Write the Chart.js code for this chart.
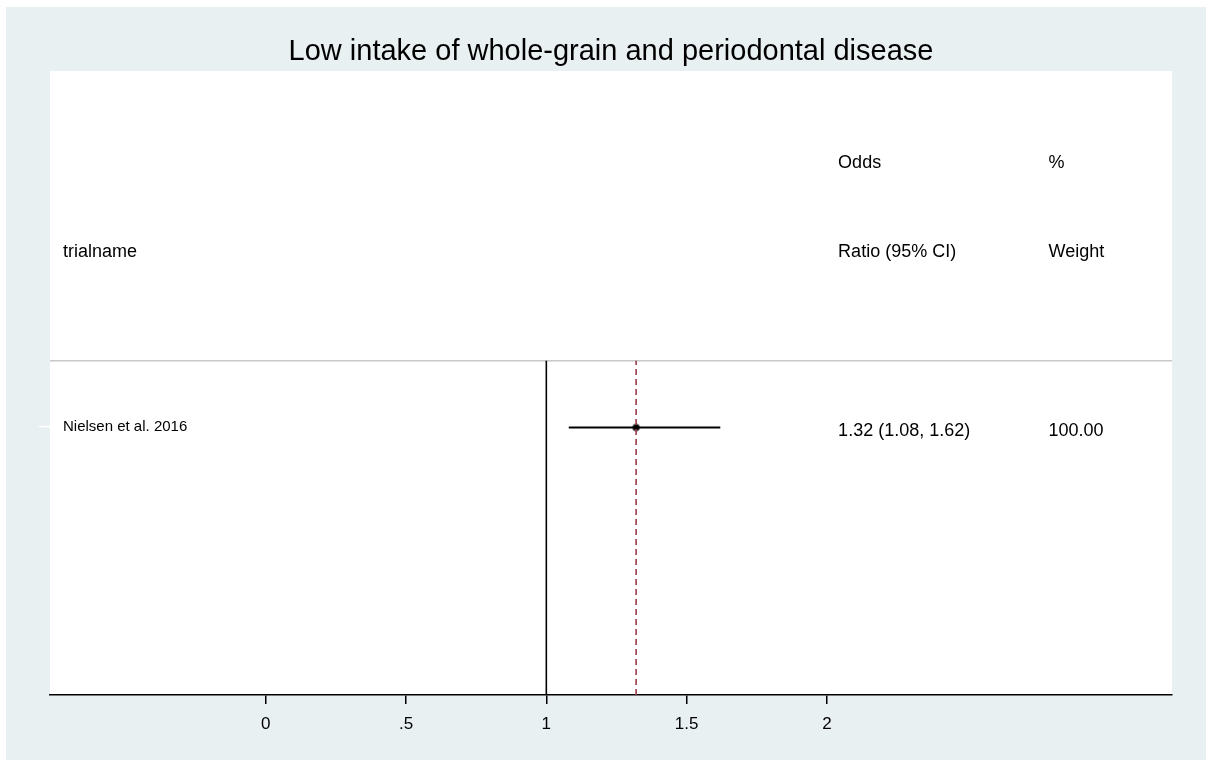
<!DOCTYPE html>
<html>
<head>
<meta charset="utf-8">
<title>Low intake of whole-grain and periodontal disease</title>
<script src="https://cdn.jsdelivr.net/npm/chart.js@4"></script>
<style>
  html, body { margin: 0; padding: 0; background: #fff; }
  #forest { display: block; }
</style>
</head>
<body>
<canvas id="forest" width="1206" height="760"></canvas>
<script>
// study rows
const studies = ["Nielsen et al. 2016"];
const oddsRatio = [1.32];
const ciLow = [1.08];
const ciHigh = [1.62];
const weights = [100.00];
const rowY = [3];

// pooled estimate and reference line
const pooledOR = 1.32;
const nullValue = 1;

// axis
const xTicks = [0, 0.5, 1, 1.5, 2];
const tickLabels = ["0", ".5", "1", "1.5", "2"];

// column headers: [text, column, row]
const headers = [
  ["Odds", "or", 6],
  ["%", "wt", 6],
  ["trialname", "name", 5],
  ["Ratio (95% CI)", "or", 5],
  ["Weight", "wt", 5]
];
const separatorY = 3.75;

const FONT = "'Liberation Sans', Arial, Helvetica, sans-serif";
const colX = { or: 2.04, wt: 2.79 };

function fmtOR(i) {
  return `${oddsRatio[i].toFixed(2)} (${ciLow[i].toFixed(2)}, ${ciHigh[i].toFixed(2)})`;
}

const datasets = [];

// confidence intervals
studies.forEach((s, i) => {
  datasets.push({
    type: "line",
    data: [{ x: ciLow[i], y: rowY[i] }, { x: ciHigh[i], y: rowY[i] }],
    borderColor: "#000",
    borderWidth: 2,
    pointRadius: 0
  });
});

// no-effect line
datasets.push({
  type: "line",
  data: [{ x: nullValue, y: 0 }, { x: nullValue, y: separatorY }],
  borderColor: "#000",
  borderWidth: 1.6,
  pointRadius: 0
});

// pooled estimate, dashed
datasets.push({
  type: "line",
  data: [{ x: pooledOR, y: 0 }, { x: pooledOR, y: separatorY }],
  borderColor: "#9a3a48",
  borderWidth: 1.6,
  borderDash: [6, 4],
  pointRadius: 0
});

// point estimates
datasets.push({
  type: "scatter",
  data: studies.map((s, i) => ({ x: oddsRatio[i], y: rowY[i] })),
  backgroundColor: "#000",
  borderColor: "rgba(120,120,120,0.7)",
  borderWidth: 1.5,
  pointRadius: 3.5
});

const backdrop = {
  id: "backdrop",
  beforeDraw(chart) {
    const { ctx, chartArea: a, width, height } = chart;
    ctx.save();
    ctx.fillStyle = "#fff";
    ctx.fillRect(0, 0, width, height);
    ctx.fillStyle = "#e9f0f2";
    ctx.fillRect(6, 7, width - 6, height - 7);
    ctx.fillStyle = "#fff";
    ctx.fillRect(a.left, a.top, a.right - a.left, a.bottom - a.top);
    // row separator
    const ys = chart.scales.y.getPixelForValue(separatorY);
    ctx.strokeStyle = "#c8c8c8";
    ctx.lineWidth = 1.5;
    ctx.beginPath();
    ctx.moveTo(a.left, ys);
    ctx.lineTo(a.right, ys);
    ctx.stroke();
    ctx.restore();
  }
};

const tableText = {
  id: "tableText",
  afterDatasetsDraw(chart) {
    const { ctx, chartArea: a, scales: { x, y } } = chart;
    ctx.save();
    ctx.fillStyle = "#000";
    ctx.textBaseline = "middle";
    ctx.textAlign = "left";
    ctx.font = `18px ${FONT}`;
    headers.forEach(([text, col, row]) => {
      const px = col === "name" ? a.left + 13 : x.getPixelForValue(colX[col]);
      ctx.fillText(text, px, y.getPixelForValue(row) + 3);
    });
    studies.forEach((s, i) => {
      const py = y.getPixelForValue(rowY[i]);
      ctx.font = `15px ${FONT}`;
      ctx.fillText(s, a.left + 13, py - 1);
      ctx.font = `18px ${FONT}`;
      ctx.fillText(fmtOR(i), x.getPixelForValue(colX.or), py + 3);
      ctx.fillText(weights[i].toFixed(2), x.getPixelForValue(colX.wt), py + 3);
      // y tick
      ctx.strokeStyle = "#fff";
      ctx.lineWidth = 1.5;
      ctx.beginPath();
      ctx.moveTo(a.left - 11, py - 1);
      ctx.lineTo(a.left, py - 1);
      ctx.stroke();
    });
    ctx.restore();
  }
};

new Chart(document.getElementById("forest"), {
  data: { datasets },
  options: {
    responsive: false,
    animation: false,
    layout: { padding: { left: 50, right: 34, top: 0, bottom: 0 } },
    plugins: {
      legend: { display: false },
      tooltip: { enabled: false },
      title: {
        display: true,
        text: "Low intake of whole-grain and periodontal disease",
        color: "#000",
        font: { family: FONT, size: 29, weight: "normal" },
        padding: { top: 35, bottom: 1.2 }
      }
    },
    scales: {
      x: {
        type: "linear",
        min: -0.769,
        max: 3.23,
        afterBuildTicks(scale) {
          scale.ticks = xTicks.map(v => ({ value: v }));
        },
        afterFit(scale) { scale.height = 65; },
        ticks: {
          color: "#000",
          font: { family: FONT, size: 17 },
          padding: 10,
          maxRotation: 0,
          autoSkip: false,
          callback: (v) => tickLabels[xTicks.indexOf(v)]
        },
        grid: { drawOnChartArea: false, drawTicks: true, tickLength: 9, color: "#000", lineWidth: 1.5 },
        border: { display: true, color: "#000", width: 1.6 }
      },
      y: {
        type: "linear",
        min: 0,
        max: 7,
        display: false
      }
    }
  },
  plugins: [backdrop, tableText]
});
</script>
</body>
</html>
